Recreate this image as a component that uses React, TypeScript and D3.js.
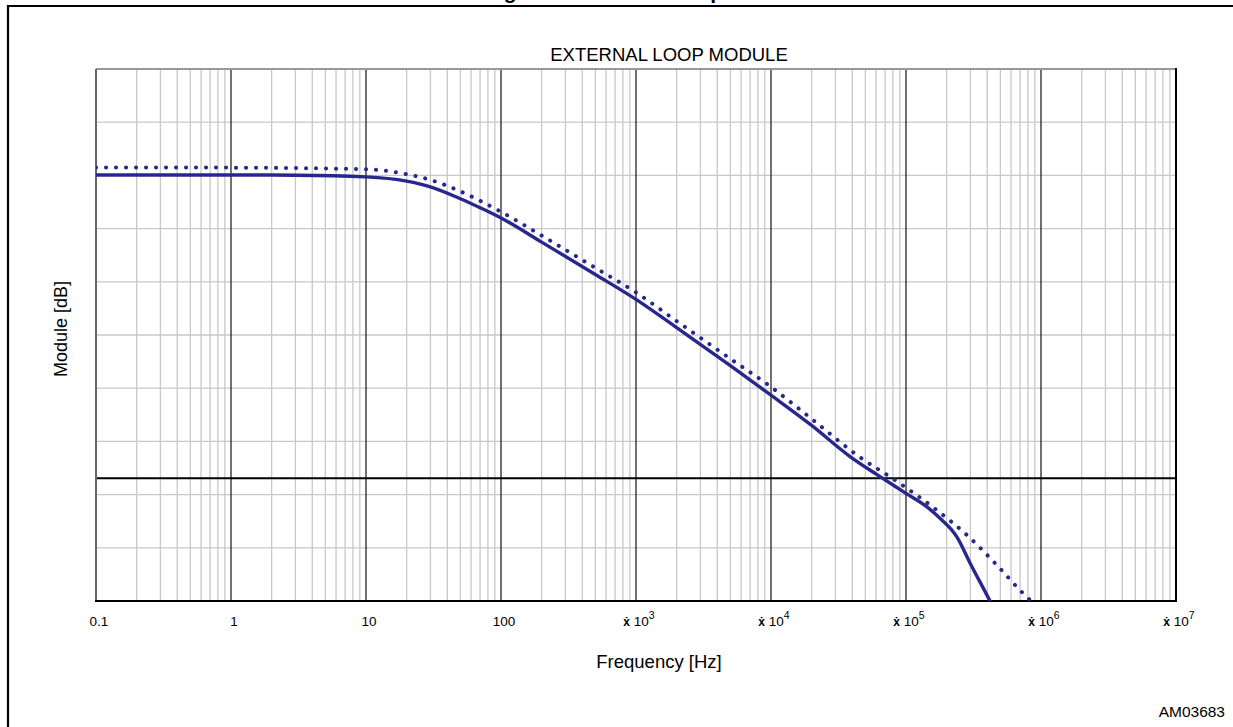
import React from 'react'
import * as d3 from 'd3'

// solid curve (frequency in Hz, module in dB)
const freqSolid = [0.1, 1, 3, 10, 20, 30, 50, 70, 100, 200, 500, 1000, 2000, 5000, 10000, 20000, 38500, 54000, 66400, 100000, 143000, 178600, 238700, 297900, 419000, 500000]
const dbSolid = [74.1, 74.1, 74.05, 73.65, 72.6, 71.2, 68.3, 66.1, 63.6, 57.7, 49.8, 43.7, 36.8, 27.5, 20.3, 12.9, 5.3, 2.0, 0.1, -3.7, -7.0, -9.8, -14.4, -20.7, -30, -35]

// dotted curve
const freqDotted = [0.1, 1, 10, 20, 30, 50, 100, 200, 500, 1000, 2000, 5000, 10000, 20000, 44400, 87700, 170600, 283000, 464000, 740000, 1000000]
const dbDotted = [75.95, 75.9, 75.5, 74.3, 72.9, 70.1, 65.1, 59.3, 51.4, 45.4, 38.4, 29.2, 22.3, 14.5, 5.4, -1.0, -7.9, -13.9, -21.0, -28.2, -32.2]

const decades = [0.1, 1, 10, 100, 1e3, 1e4, 1e5, 1e6, 1e7]
const decadeLabels = ['0.1', '1', '10', '100', '', '', '', '', '']
const decadeExponents = ['', '', '', '', '3', '4', '5', '6', '7']

const W = 1233
const H = 727
const plot = {left: 96, top: 69, right: 1176, bottom: 601}
const navy = '#27278c'
const font = '"Liberation Sans", Arial, sans-serif'

export default function App() {
  const x = d3.scaleLog().domain([0.1, 1e7]).range([plot.left, plot.right])
  const y = d3.scaleLinear().domain([-30, 100]).range([plot.bottom, plot.top])

  // minor gridlines: 2..9 within each decade
  const minor: number[] = []
  decades.slice(0, -1).forEach(d => {
    for (let k = 2; k < 10; k++) minor.push(d * k)
  })
  const yGrid = d3.range(-30, 100.1, 13)

  const line = d3
    .line<[number, number]>()
    .x(d => x(d[0]))
    .y(d => y(d[1]))
    .curve(d3.curveMonotoneX)

  const solid = line(freqSolid.map((f, i) => [f, dbSolid[i]]) as [number, number][])
  const dotted = line(freqDotted.map((f, i) => [f, dbDotted[i]]) as [number, number][])

  return (
    <svg
      width={W}
      height={H}
      style={{position: 'absolute', left: 0, top: 0, background: '#fff'}}
      fontFamily={font}>
      <defs>
        <clipPath id="plotClip">
          <rect x={plot.left} y={plot.top} width={plot.right - plot.left} height={plot.bottom - plot.top} />
        </clipPath>
      </defs>

      {/* figure caption, cut by the page edge as in the source */}
      <text x={485} y={-1} fontSize={21} fontWeight="bold" fill="#000">
        Figure 17. External loop module
      </text>

      {/* outer frame */}
      <line x1={7} x2={W} y1={6} y2={6} stroke="#000" strokeWidth={2.2} />
      <line x1={8} x2={8} y1={5} y2={H} stroke="#000" strokeWidth={2.2} />

      {/* grid */}
      {minor.map(f => (
        <line key={'m' + f} x1={x(f)} x2={x(f)} y1={plot.top} y2={plot.bottom} stroke="#c8c8c8" strokeWidth={1.3} />
      ))}
      {yGrid.map(v => (
        <line key={'h' + v} x1={plot.left} x2={plot.right} y1={y(v)} y2={y(v)} stroke="#c8c8c8" strokeWidth={1.3} />
      ))}
      {decades.slice(1, -1).map(d => (
        <line key={'d' + d} x1={x(d)} x2={x(d)} y1={plot.top} y2={plot.bottom} stroke="#111" strokeWidth={1.2} />
      ))}

      {/* 0 dB line */}
      <line x1={plot.left} x2={plot.right} y1={y(0)} y2={y(0)} stroke="#000" strokeWidth={2} />

      {/* plot border */}
      <line x1={plot.left} x2={plot.right} y1={plot.top} y2={plot.top} stroke="#999" strokeWidth={2} />
      <line x1={plot.left} x2={plot.left} y1={plot.top} y2={plot.bottom} stroke="#666" strokeWidth={2} />
      <line x1={plot.right} x2={plot.right} y1={plot.top - 1} y2={plot.bottom + 1} stroke="#000" strokeWidth={2} />
      <line x1={plot.left - 1} x2={plot.right + 1} y1={plot.bottom} y2={plot.bottom} stroke="#000" strokeWidth={2} />

      {/* curves */}
      <g clipPath="url(#plotClip)">
        <path d={solid || ''} fill="none" stroke={navy} strokeWidth={3.4} strokeLinejoin="round" />
        <path
          d={dotted || ''}
          fill="none"
          stroke={navy}
          strokeWidth={4}
          strokeLinecap="round"
          strokeDasharray="0.1 9.9"
        />
      </g>

      {/* x tick labels */}
      {decades.map((d, i) => (
        <text key={'t' + d} x={x(d) + 3} y={626} fontSize={13.5} textAnchor="middle" fill="#000">
          {decadeExponents[i] ? (
            <>
              <tspan fontWeight="bold" fontSize={12}>ẋ</tspan>
              <tspan> 10</tspan>
              <tspan fontSize={10.5} dy={-7}>{decadeExponents[i]}</tspan>
            </>
          ) : (
            decadeLabels[i]
          )}
        </text>
      ))}

      {/* titles */}
      <text x={669} y={61} fontSize={18.5} textAnchor="middle" fill="#000">
        EXTERNAL LOOP MODULE
      </text>
      <text x={659} y={668} fontSize={18.5} textAnchor="middle" fill="#000">
        Frequency [Hz]
      </text>
      <text
        transform={`translate(67, ${(plot.top + plot.bottom) / 2 - 6}) rotate(-90)`}
        fontSize={18}
        textAnchor="middle"
        fill="#000">
        Module [dB]
      </text>
      <text x={1225} y={717} fontSize={15.5} textAnchor="end" fill="#000">
        AM03683
      </text>
    </svg>
  )
}
